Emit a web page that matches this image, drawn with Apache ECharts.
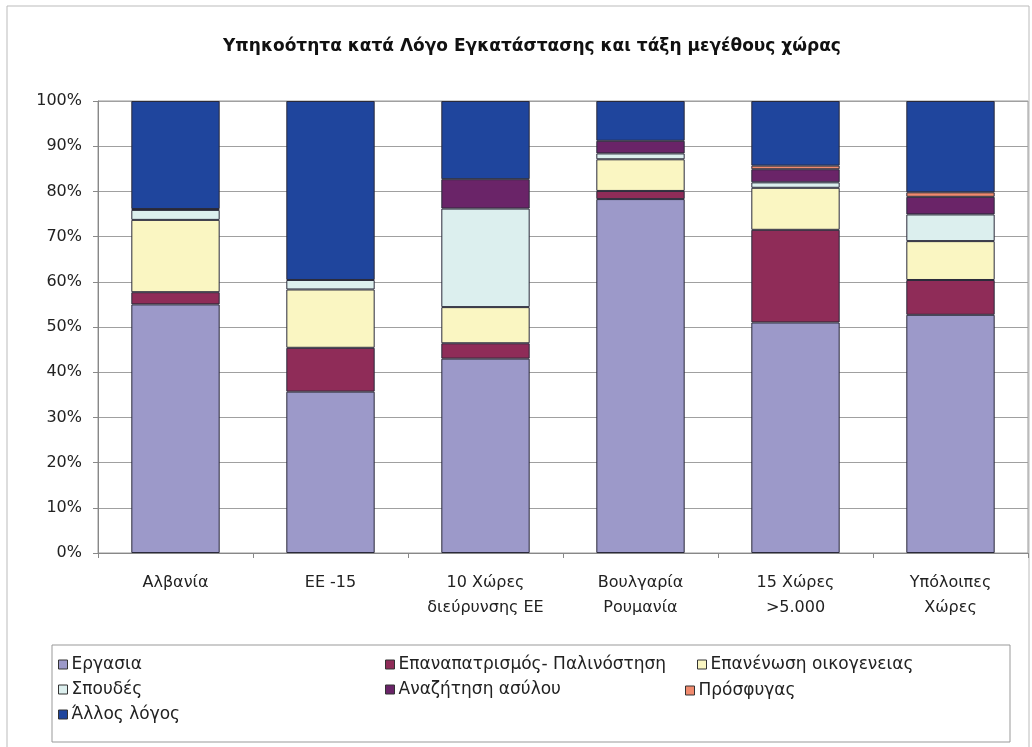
<!DOCTYPE html>
<html>
<head>
<meta charset="utf-8">
<script src="https://cdn.jsdelivr.net/npm/echarts@6/dist/echarts.min.js"></script>
<style>
  html, body { margin: 0; padding: 0; background: #fff; }
  #chart { width: 1032px; height: 747px; }
</style>
</head>
<body>
<div id="chart"></div>
<script>
// κατηγορίες (άξονας x)
const categories = ["Αλβανία", "ΕΕ -15", "10 Χώρες\nδιεύρυνσης ΕΕ", "Βουλγαρία\nΡουμανία", "15 Χώρες\n>5.000", "Υπόλοιπες\nΧώρες"];

// ποσοστά ανά λόγο εγκατάστασης (%)
const ergasia      = [55.0, 35.7, 43.0, 78.3, 51.0, 52.7];
const epanapatr    = [2.7, 9.7, 3.4, 1.8, 20.5, 7.7];
const epanenosi    = [16.0, 12.9, 8.0, 7.0, 9.3, 8.6];
const spoudes      = [2.2, 2.1, 21.8, 1.3, 1.2, 5.9];
const asylo        = [0.2, null, 6.5, 2.8, 2.9, 3.9];
const prosfygas    = [null, null, null, null, 0.8, 1.0];
const allos        = [23.9, 39.6, 17.3, 8.8, 14.3, 20.2];

const yTicks = ["0%", "10%", "20%", "30%", "40%", "50%", "60%", "70%", "80%", "90%", "100%"];

const seriesDefs = [
  { name: "Εργασια", data: ergasia, color: "#9c99c9" },
  { name: "Επαναπατρισμός- Παλινόστηση", data: epanapatr, color: "#8f2c58" },
  { name: "Επανένωση οικογενειας", data: epanenosi, color: "#faf6c2" },
  { name: "Σπουδές", data: spoudes, color: "#dcefee" },
  { name: "Αναζήτηση ασύλου", data: asylo, color: "#6a2468" },
  { name: "Πρόσφυγας", data: prosfygas, color: "#f08a6e" },
  { name: "Άλλος λόγος", data: allos, color: "#1f459d" }
];

const chart = echarts.init(document.getElementById("chart"));
const font = "'DejaVu Sans', Verdana, sans-serif";

const legendBase = {
  orient: "vertical",
  itemWidth: 9,
  itemHeight: 9,
  itemGap: 8,
  icon: "rect",
  itemStyle: { borderColor: "#333", borderWidth: 1 },
  textStyle: { fontFamily: font, fontSize: 17, color: "#222", padding: [0, 0, 0, -1] },
  selectedMode: false
};

const option = {
  backgroundColor: "#fff",
  animation: false,
  title: {
    text: "Υπηκοότητα κατά Λόγο Εγκατάστασης και τάξη μεγέθους χώρας",
    left: 527,
    textAlign: "center",
    top: 33,
    textStyle: { fontFamily: font, fontSize: 17, fontWeight: "bold", color: "#111" }
  },
  legend: [
    Object.assign({}, legendBase, { left: 53, top: 651, data: ["Εργασια", "Σπουδές", "Άλλος λόγος"] }),
    Object.assign({}, legendBase, { left: 380, top: 651, data: ["Επαναπατρισμός- Παλινόστηση", "Αναζήτηση ασύλου"] }),
    Object.assign({}, legendBase, { left: 692, top: 651, data: ["Επανένωση οικογενειας"] }),
    Object.assign({}, legendBase, { left: 680, top: 677, data: ["Πρόσφυγας"] })
  ],
  grid: {
    left: 98, right: 4, top: 101, bottom: 194,
    show: true, borderColor: "#999", borderWidth: 1
  },
  xAxis: {
    type: "category",
    data: categories,
    axisLine: { lineStyle: { color: "#888" } },
    axisTick: { show: true, length: 5, lineStyle: { color: "#888" } },
    axisLabel: { fontFamily: font, fontSize: 16, color: "#222", margin: 17, lineHeight: 25 }
  },
  yAxis: {
    type: "value",
    min: 0,
    max: 100,
    interval: 10,
    axisLine: { show: true, lineStyle: { color: "#888" } },
    axisTick: { show: true, length: 5, lineStyle: { color: "#888" } },
    axisLabel: {
      fontFamily: font, fontSize: 16, color: "#222", margin: 16,
      formatter: function (v) { return yTicks[Math.round(v / 10)]; }
    },
    splitLine: { lineStyle: { color: "#a0a0a0", width: 1 } }
  },
  graphic: [
    { type: "rect", shape: { x: 7, y: 6, width: 1022, height: 745 }, style: { fill: "none", stroke: "#bbb", lineWidth: 1 }, silent: true, z: -1 },
    { type: "rect", shape: { x: 52, y: 645, width: 958, height: 97 }, style: { fill: "none", stroke: "#999", lineWidth: 1 }, silent: true }
  ],
  series: seriesDefs.map(function (s) {
    return {
      name: s.name,
      type: "bar",
      stack: "total",
      barCategoryGap: "43%",
      data: s.data,
      itemStyle: { color: s.color, borderColor: "#2a2a3a", borderWidth: 1 }
    };
  })
};

chart.setOption(option);
</script>
</body>
</html>
